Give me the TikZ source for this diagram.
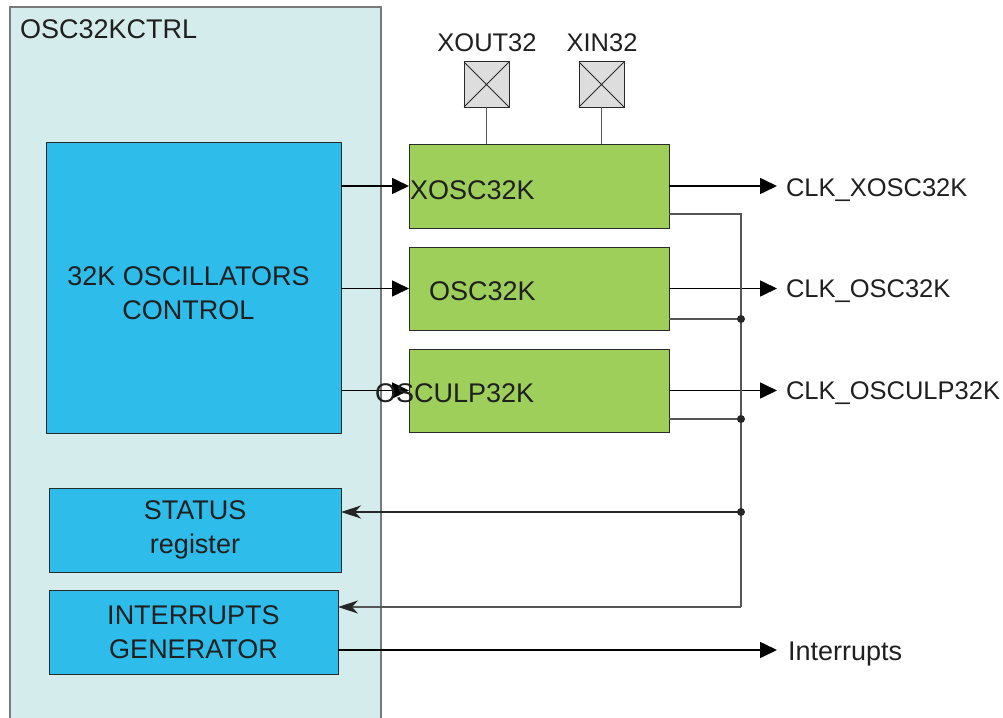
\documentclass[tikz,border=0pt]{standalone}
\usepackage{fontspec}
\setmainfont{Liberation Sans}
\usetikzlibrary{arrows.meta,calc}
\definecolor{ctrlbg}{HTML}{D5ECEC}
\definecolor{ctrledge}{HTML}{7A7A7A}
\definecolor{blu}{HTML}{2EBDEA}
\definecolor{grn}{HTML}{9ECF5B}
\definecolor{pinbg}{HTML}{DDDDDD}
\definecolor{edge}{HTML}{2A2A2A}
\definecolor{wire}{HTML}{555555}
\begin{document}
\begin{tikzpicture}[x=1pt,y=-1pt,
  every node/.style={inner sep=0pt, outer sep=0pt},
  txt/.style={font=\fontsize{27}{34}\selectfont, text=black!88},
  stxt/.style={font=\fontsize{25.5}{34}\selectfont, text=black!88},
  bluebox/.style={draw=edge, line width=1pt, fill=blu, anchor=north west, txt, align=center},
  greenbox/.style={draw=edge, line width=1pt, fill=grn, anchor=north west, minimum width=260pt},
  pinbox/.style={draw=edge, line width=1pt, fill=pinbg, anchor=north west, minimum width=45pt, minimum height=45pt},
  sig/.style={draw=black, line width=1.6pt, -{Triangle[length=17pt,width=16pt]}},
  wirel/.style={draw=wire, line width=1.2pt},
  fb/.style={line width=1.3pt, -{Stealth[length=20pt,width=13pt,inset=6pt,color=black!85]}}
]
\useasboundingbox (0,0) rectangle (1003,717);
\clip (0,0) rectangle (1003,717);
% container
\node[draw=ctrledge, line width=1.3pt, fill=ctrlbg, anchor=north west,
      minimum width=371pt, minimum height=740pt] (ctrl) at (10,7) {};
\node[txt, anchor=base west] (title) at (20,39) {OSC32KCTRL};
% blue blocks
\node[bluebox, minimum width=295pt, minimum height=291pt] (osc) at (46,142) {};
\node[txt, align=center] (osctxt) at (188.5,293) {32K OSCILLATORS\\CONTROL};
\node[bluebox, minimum width=292pt, minimum height=84pt] (status) at (49,488) {STATUS\\register};
\node[bluebox, minimum width=289pt, minimum height=84pt] (intgen) at (49,590) {INTERRUPTS\\GENERATOR};
% green blocks
\node[greenbox, minimum height=84pt] (xosc) at (409,144) {};
\node[greenbox, minimum height=83pt] (osc32) at (409,247) {};
\node[greenbox, minimum height=83pt] (osculp) at (409,349) {};
% pins
\node[pinbox] (xout) at (464,62) {};
\node[pinbox] (xin) at (579,62) {};
\draw[draw=edge, line width=1pt] (xout.north west) -- (xout.south east) (xout.north east) -- (xout.south west);
\draw[draw=edge, line width=1pt] (xin.north west) -- (xin.south east) (xin.north east) -- (xin.south west);
\node[stxt, anchor=base] (xoutl) at (487,52) {XOUT32};
\node[stxt, anchor=base] (xinl) at (602,52) {XIN32};
\draw[wirel] (xout.south) -- (xout.south |- xosc.north);
\draw[wirel] (xin.south) -- (xin.south |- xosc.north);
% control arrows
\draw[sig] (osc.east |- xosc.west) -- (xosc.west);
\draw[sig] (osc.east |- osc32.west) -- (osc32.west);
\draw[sig] (osc.east |- osculp.west) -- (osculp.west);
% green texts
\node[txt, anchor=base west] (xosct) at (410,199) {XOSC32K};
\node[txt, anchor=base west] (osct) at (429,300) {OSC32K};
\node[txt, anchor=base west] (ulpt) at (375,402) {OSCULP32K};
% outputs
\coordinate (tip) at (777,0);
\draw[sig] (xosc.east) -- (xosc.east -| tip);
\draw[sig] (osc32.east) -- (osc32.east -| tip);
\draw[sig] (osculp.east) -- (osculp.east -| tip);
\node[stxt, anchor=base west] (clkx) at (786,196) {CLK\_XOSC32K};
\node[stxt, anchor=base west] (clko) at (786,297) {CLK\_OSC32K};
\node[stxt, anchor=base west] (clku) at (786,399) {CLK\_OSCULP32K};
% status bus
\coordinate (c1) at (741,214);
\coordinate (j1) at (741,319);
\coordinate (j2) at (741,419);
\coordinate (j3) at (741,512);
\coordinate (c2) at (741,607);
\draw[wirel] (xosc.east |- c1) -- (c1) -- (c2);
\draw[wirel] (osc32.east |- j1) -- (j1);
\draw[wirel] (osculp.east |- j2) -- (j2);
\draw[fb, draw=black!85] (j3) -- (status.east |- j3);
\draw[fb, draw=wire] (c2) -- (intgen.east |- c2);
\fill[black!85] (j1) circle (4pt) (j2) circle (4pt) (j3) circle (4pt);
% interrupts out
\coordinate (iout) at (777,650);
\draw[sig] (intgen.east |- iout) -- (iout);
\node[txt, anchor=base west] (intl) at (788,660) {Interrupts};
\end{tikzpicture}
\end{document}
